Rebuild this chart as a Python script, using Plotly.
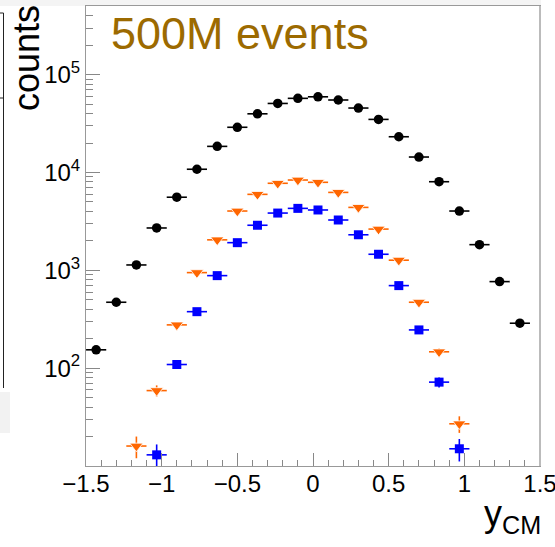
import plotly.graph_objects as go

# ---- data ----
bin_centers = [-1.433, -1.300, -1.167, -1.033, -0.900, -0.767, -0.633, -0.500,
               -0.367, -0.233, -0.100, 0.033, 0.167, 0.300, 0.433, 0.567,
               0.700, 0.833, 0.967, 1.100, 1.233, 1.367]
bin_half_width = 0.0667

counts_black = [154, 472, 1135, 2710, 5590, 10800, 18500, 29000, 39800, 50800,
                57300, 59400, 55100, 45600, 34900, 23200, 14400, 8050, 4040,
                1830, 767, 288]
counts_orange = [None, None, 16, 59, 277, 948, 2050, 4040, 5980, 7760, 8380,
                 7940, 6260, 4400, 2640, 1270, 472, 147, 27, None, None, None]
counts_blue = [None, None, None, 13, 109, 378, 883, 1918, 2890, 3850, 4300,
               4140, 3270, 2310, 1460, 698, 246, 72, 15, None, None, None]

x_ticks = [-1.5, -1, -0.5, 0, 0.5, 1, 1.5]
y_ticks = [1e2, 1e3, 1e4, 1e5]
y_ticktext = ["10<sup>2</sup>", "10<sup>3</sup>", "10<sup>4</sup>", "10<sup>5</sup>"]
y_minor = [m * 10 ** e for e in range(1, 6) for m in range(2, 10) if m * 10 ** e < 5.1e5]

W, H = 555, 547
L, R, T, B = 86, 15, 6, 81
PW, PH = W - L - R, H - T - B


def px(x):
    return (x - L) / PW


def py(y):
    return (H - B - y) / PH


fig = go.Figure()

series = [
    (counts_black, "black", "circle", 9.5, 0, "black"),
    (counts_orange, "#ff6600", "triangle-down", 11.5, 0.8, "white"),
    (counts_blue, "#0000ff", "square", 9, 0, "#0000ff"),
]
for vals, col, sym, size, lw, lc in series:
    xs = [x for x, v in zip(bin_centers, vals) if v is not None]
    ys = [v for v in vals if v is not None]
    fig.add_trace(go.Scatter(
        x=xs, y=ys, mode="markers",
        marker=dict(color=col, symbol=sym, size=size, line=dict(width=lw, color=lc)),
        error_x=dict(type="constant", value=bin_half_width, width=0, thickness=1.6, color=col),
        error_y=dict(type="data", array=[v ** 0.5 for v in ys], width=0, thickness=1.6, color=col),
        hoverinfo="skip",
    ))

fig.update_layout(
    width=W, height=H,
    margin=dict(l=L, r=R, t=T, b=B, autoexpand=False),
    paper_bgcolor="white", plot_bgcolor="white",
    showlegend=False,
    font=dict(family="Liberation Sans, Arial, sans-serif", size=24, color="black"),
    xaxis=dict(
        range=[-1.5, 1.5], tickmode="array", tickvals=x_ticks,
        ticks="inside", ticklen=13, tickwidth=1, tickcolor="#888",
        showline=True, linecolor="#999", linewidth=1, mirror=True,
        showgrid=False, zeroline=False, ticklabelstandoff=-4,
        ticklabeloverflow="allow", automargin=False,
        minor=dict(dtick=0.1, tick0=-1.5, ticks="inside", ticklen=6,
                   tickcolor="#888", tickwidth=1, showgrid=False),
    ),
    yaxis=dict(
        type="log", range=[1.0, 5.702], tickmode="array",
        tickvals=y_ticks, ticktext=y_ticktext, automargin=False,
        ticks="inside", ticklen=14, tickwidth=1, tickcolor="#888",
        showline=True, linecolor="#999", linewidth=1, mirror=True,
        showgrid=False, zeroline=False, ticklabelstandoff=0,
        minor=dict(tickmode="array", tickvals=y_minor, ticks="inside", ticklen=7,
                   tickcolor="#888", tickwidth=1, showgrid=False),
    ),
    annotations=[
        dict(text="500M events", xref="paper", yref="paper", x=px(109), y=py(6),
             xanchor="left", yanchor="top", showarrow=False,
             font=dict(size=45, color="#9c6a00")),
        dict(text="counts", xref="paper", yref="paper", x=px(27), y=py(3),
             xanchor="center", yanchor="top", textangle=-90, showarrow=False,
             font=dict(size=36, color="black")),
        dict(text="y<sub>CM</sub>",
             xref="paper", yref="paper", x=px(543), y=py(541),
             xanchor="right", yanchor="bottom", showarrow=False,
             font=dict(size=36, color="black")),
    ],
    shapes=[
        dict(type="rect", xref="paper", yref="paper", x0=px(0), x1=px(541), y0=py(6), y1=py(0),
             fillcolor="#f4f4f4", line=dict(width=0), layer="below"),
        dict(type="rect", xref="paper", yref="paper", x0=px(0), x1=px(10), y0=py(433), y1=py(392),
             fillcolor="#f2f2f2", line=dict(width=0), layer="below"),
        dict(type="line", xref="paper", yref="paper", x0=px(3.5), x1=px(3.5), y0=py(13), y1=py(388),
             line=dict(color="#222", width=1)),
        dict(type="line", xref="paper", yref="paper", x0=px(0), x1=px(3.5), y0=py(13), y1=py(13),
             line=dict(color="#222", width=1)),
        dict(type="line", xref="paper", yref="paper", x0=px(0), x1=px(3.5), y0=py(98), y1=py(98),
             line=dict(color="#222", width=1)),
        dict(type="line", xref="paper", yref="paper", x0=1, x1=1, y0=0, y1=1,
             line=dict(color="#bbb", width=2)),
    ],
)

fig.write_html("out.html", config={"displayModeBar": False},
               post_script="document.body.style.margin='0';document.body.style.padding='0';")
